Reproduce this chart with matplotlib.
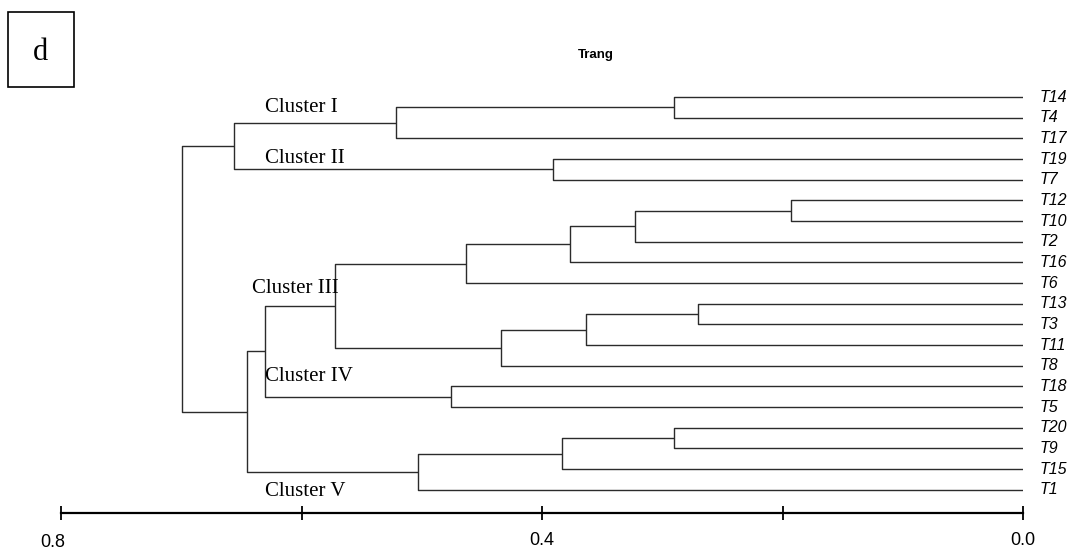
import matplotlib
matplotlib.use("Agg")
import matplotlib.pyplot as plt
from matplotlib.patches import Rectangle

# Leaves, top to bottom
leaves = ["T14", "T4", "T17", "T19", "T7", "T12", "T10", "T2", "T16", "T6",
          "T13", "T3", "T11", "T8", "T18", "T5", "T20", "T9", "T15", "T1"]

# Merges (like a linkage table): node cK joins merge_a[k-1] and merge_b[k-1]
merge_a = ["T12", "T14", "T13", "T20", "c1", "c3", "c5", "c4", "T19", "c6",
           "c7", "T18", "c8", "c2", "c11", "c15", "c16", "c14", "c18"]
merge_b = ["T10", "T4", "T3", "T9", "T2", "T11", "T16", "T15", "T7", "T8",
           "T6", "T5", "T1", "T17", "c10", "c12", "c13", "c9", "c17"]
merge_h = [0.193, 0.290, 0.270, 0.290, 0.323, 0.363, 0.377, 0.383, 0.391, 0.434,
           0.463, 0.476, 0.503, 0.521, 0.572, 0.630, 0.645, 0.656, 0.699]

cluster_names = ["Cluster I", "Cluster II", "Cluster III", "Cluster IV", "Cluster V"]
cluster_x = [0.630, 0.630, 0.641, 0.630, 0.630]
cluster_y = [0.53, 2.95, 9.28, 13.54, 19.1]

axis_ticks = [0.8, 0.6, 0.4, 0.2, 0.0]
axis_labels = ["", "", "0.4", "", "0.0"]

W, H = 1075, 552
fig = plt.figure(figsize=(W / 100, H / 100), dpi=100)
ax = fig.add_axes([61 / W, (H - 513) / H, (1023 - 61) / W, 432.5 / H])

line_kw = dict(color="#2b2b2b", lw=1.0, solid_capstyle="butt")

pos = {name: (0.0, i) for i, name in enumerate(leaves)}
for k, (a, b, h) in enumerate(zip(merge_a, merge_b, merge_h), start=1):
    ha, ya = pos[a]
    hb, yb = pos[b]
    ax.plot([ha, h, h, hb], [ya, ya, yb, yb], **line_kw)
    pos["c%d" % k] = (h, (ya + yb) / 2)

for i, name in enumerate(leaves):
    ax.annotate(name, xy=(0.0, i), xytext=(12, 0), textcoords="offset points",
                ha="left", va="center", fontsize=11.5, style="italic",
                family="Liberation Sans", annotation_clip=False)

for name, cx, cy in zip(cluster_names, cluster_x, cluster_y):
    ax.text(cx, cy, name, ha="left", va="center", fontsize=15,
            family="Liberation Serif")

ax.set_xlim(0.8, 0.0)
ax.set_ylim(20.12, -0.8)
for s in ["top", "right", "left"]:
    ax.spines[s].set_visible(False)
ax.spines["bottom"].set_linewidth(1.6)
ax.set_yticks([])
ax.set_xticks(axis_ticks)
ax.set_xticklabels(axis_labels, fontsize=13, family="Liberation Sans")
ax.tick_params(axis="x", direction="inout", length=10, width=1.3, pad=9)
# the 0.8 label sits a little lower and left of its tick
ax.text(0.807, 21.12, "0.8", ha="center", va="top",
        fontsize=13, family="Liberation Sans")

fig.text(596 / W, 1 - 55 / H, "Trang", ha="center", va="center",
         fontsize=9.5, fontweight="bold", family="Liberation Sans")
fig.patches.append(Rectangle((8 / W, 1 - 87 / H), 66 / W, 75 / H,
                             transform=fig.transFigure, fill=False,
                             edgecolor="black", lw=1.2))
fig.text(41 / W, 1 - 52 / H, "d", ha="center", va="center", fontsize=22,
         family="Liberation Serif")

fig.savefig("out.png", dpi=100)
